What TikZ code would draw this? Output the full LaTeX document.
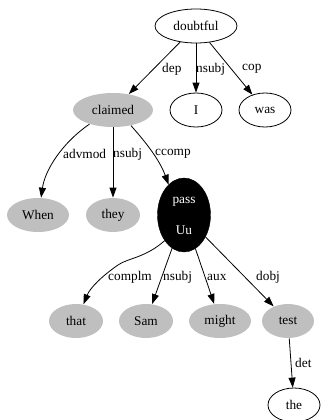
\documentclass[tikz,border=0pt]{standalone}
\usepackage{fontspec}
\setmainfont{Liberation Serif}
\usetikzlibrary{shapes.geometric,arrows.meta}
\begin{document}
\begin{tikzpicture}[x=1pt,y=-1pt,
  word/.style={ellipse,draw=black,line width=0.8pt,inner sep=0pt,minimum height=34pt,font=\fontsize{13.3}{14}\selectfont},
  grayword/.style={word,draw=none,fill=black!25},
  lbl/.style={inner sep=0pt,anchor=west,font=\fontsize{13.3}{14}\selectfont},
  edge/.style={draw=black,line width=0.8pt,-{Triangle[length=10pt,width=7pt]}}]
\useasboundingbox (0,0) rectangle (321,420);
\node[word,minimum width=82pt] (doubtful) at (196,26) {doubtful};
\node[grayword,minimum width=80pt] (claimed) at (113,110) {claimed};
\node[word,minimum width=52pt] (I) at (196,110) {I};
\node[word,minimum width=52pt] (was) at (265,110) {was};
\node[grayword,minimum width=62pt] (When) at (38,215) {When};
\node[grayword,minimum width=54pt] (they) at (113,215) {they};
\node[ellipse,fill=black,draw=black,inner sep=0pt,minimum width=53pt,minimum height=74pt] (pass) at (184,215) {};
\node[inner sep=0pt,text=white,font=\fontsize{13.3}{14}\selectfont] (passtxt) at (184,202) {pass};
\node[inner sep=0pt,text=white,font=\fontsize{13.3}{14}\selectfont] (uutxt) at (184,230) {Uu};
\node[grayword,minimum width=54pt] (that) at (76,321) {that};
\node[grayword,minimum width=54pt] (Sam) at (146,321) {Sam};
\node[grayword,minimum width=62pt] (might) at (220,321) {might};
\node[grayword,minimum width=52pt] (test) at (288,321) {test};
\node[word,minimum width=52pt] (the) at (294,405) {the};

\draw[edge] (doubtful) -- (claimed);
\draw[edge] (doubtful) -- (I);
\draw[edge] (doubtful) -- (was);
\draw[edge] (claimed.-149) .. controls (62,143) and (45,170) .. (When.80);
\draw[edge] (claimed) -- (they);
\draw[edge] (claimed.-41) .. controls (142,138) and (159,158) .. (pass.117);
\draw[edge] (pass.-127) .. controls (145,258) and (128,258) .. (118,265) .. controls (102,276) and (90,288) .. (that.66);
\draw[edge] (pass) -- (Sam);
\draw[edge] (pass) -- (might);
\draw[edge] (pass) -- (test);
\draw[edge] (test) -- (the);

\node[lbl] (l1) at (162,69) {dep};
\node[lbl] (l2) at (196,69) {nsubj};
\node[lbl] (l3) at (242,69) {cop};
\node[lbl] (l4) at (63,154) {advmod};
\node[lbl] (l5) at (113,154) {nsubj};
\node[lbl] (l6) at (155,154) {ccomp};
\node[lbl] (l7) at (108,277) {complm};
\node[lbl] (l8) at (163,277) {nsubj};
\node[lbl] (l9) at (207,277) {aux};
\node[lbl] (l10) at (256,277) {dobj};
\node[lbl] (l11) at (295,363) {det};
\end{tikzpicture}
\end{document}
